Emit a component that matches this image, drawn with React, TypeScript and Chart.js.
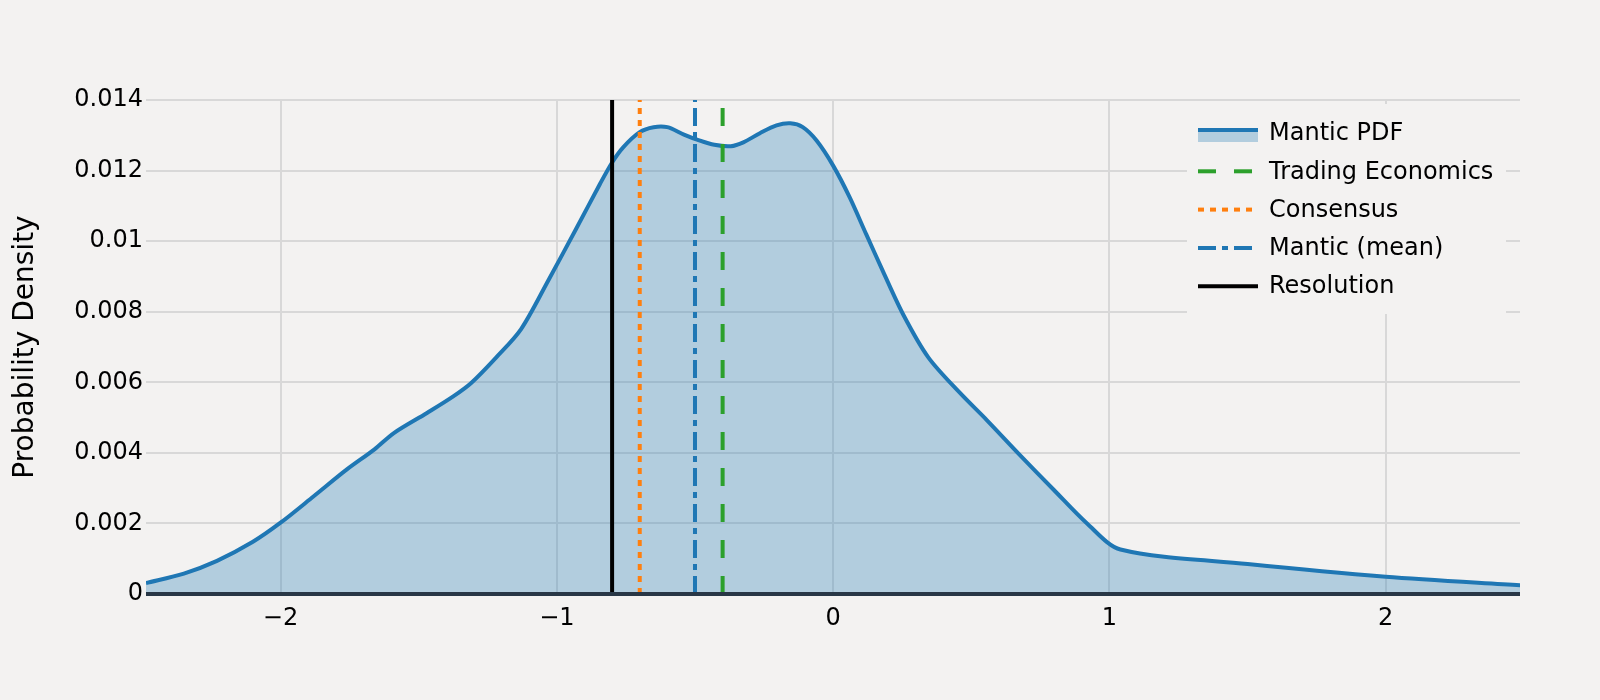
import React, { useEffect, useRef } from 'react';
import { Chart, registerables } from 'chart.js';

Chart.register(...registerables);

// ---- data ----
const pdfX = [
  -2.487, -2.35, -2.23, -2.1, -2.0, -1.88, -1.76, -1.66, -1.59, -1.47, -1.375, -1.31,
  -1.22, -1.13, -1.03, -0.93, -0.844, -0.8, -0.76, -0.7, -0.65, -0.6, -0.54, -0.49,
  -0.43, -0.37, -0.325, -0.265, -0.205, -0.155, -0.11, -0.06, 0.0, 0.06, 0.12, 0.18,
  0.255, 0.345, 0.46, 0.556, 0.677, 0.8, 0.92, 1.04, 1.5, 2.0, 2.487,
];
const pdfY = [
  0.00031, 0.00058, 0.00094, 0.00148, 0.00202, 0.00277, 0.00353, 0.0041, 0.00456, 0.00513, 0.0056, 0.00598,
  0.0067, 0.0075, 0.0089, 0.01035, 0.01162, 0.01223, 0.01266, 0.01309, 0.01323, 0.01323, 0.01302, 0.01287,
  0.01273, 0.01269, 0.0128, 0.01306, 0.01328, 0.01334, 0.01323, 0.01285, 0.01214, 0.01124, 0.01019, 0.00915,
  0.0079, 0.0067, 0.00569, 0.00493, 0.00393, 0.00294, 0.00199, 0.00126, 0.00085, 0.00049, 0.00025,
];
const pdfLabel = 'Mantic PDF';

const refLabels = ['Trading Economics', 'Consensus', 'Mantic (mean)', 'Resolution'];
const refValues = [-0.4, -0.7, -0.5, -0.8];
const refColors = ['#2ca02c', '#ff7f0e', '#1f77b4', '#000000'];
const refDashes: number[][] = [[18, 18], [6, 6], [18, 6, 6, 6], []];

const xTickValues = [-2, -1, 0, 1, 2];
const yTickValues = [0, 0.002, 0.004, 0.006, 0.008, 0.01, 0.012, 0.014];
const xRange = [-2.487, 2.486];
const yRange = [0, 0.014];
const yTitle = 'Probability Density';

// ---- styles ----
const BG = '#f3f2f1';
const GRID = 'rgb(216,216,216)';
const FONT = '"DejaVu Sans", Verdana, sans-serif';
const BLUE = '#1f77b4';
const FILL = 'rgba(31,119,180,0.3)';

const zeroLinePlugin = {
  id: 'zeroLine',
  afterDatasetsDraw(chart: any) {
    const { ctx, chartArea } = chart;
    const y = chart.scales.y.getPixelForValue(0);
    ctx.save();
    ctx.strokeStyle = 'rgb(40,55,70)';
    ctx.lineWidth = 4;
    ctx.beginPath();
    ctx.moveTo(chartArea.left, y);
    ctx.lineTo(chartArea.right, y);
    ctx.stroke();
    ctx.restore();
  },
};

const legendPlugin = {
  id: 'plotlyLegend',
  afterDraw(chart: any) {
    const { ctx, chartArea } = chart;
    const boxW = 319;
    const boxH = 210;
    const boxRight = chartArea.right - 14;
    const boxLeft = boxRight - boxW;
    const boxTop = chartArea.top + 4;
    const rowH = 38.3;
    ctx.save();
    ctx.fillStyle = BG;
    ctx.fillRect(boxLeft, boxTop, boxW, boxH);
    chart.data.datasets.forEach((ds: any, i: number) => {
      const cy = boxTop + 29 + i * rowH;
      const x0 = boxLeft + 11;
      const x1 = x0 + 60;
      if (ds.fill) {
        ctx.fillStyle = ds.backgroundColor;
        ctx.fillRect(x0, cy - 3, 60, 12);
        ctx.strokeStyle = ds.borderColor;
        ctx.lineWidth = 4;
        ctx.setLineDash([]);
        ctx.beginPath();
        ctx.moveTo(x0, cy - 3);
        ctx.lineTo(x1, cy - 3);
        ctx.stroke();
      } else {
        ctx.strokeStyle = ds.borderColor;
        ctx.lineWidth = 4;
        ctx.setLineDash(ds.borderDash || []);
        ctx.beginPath();
        ctx.moveTo(x0, cy);
        ctx.lineTo(x1, cy);
        ctx.stroke();
      }
      ctx.setLineDash([]);
      ctx.fillStyle = '#000';
      ctx.font = `24px ${FONT}`;
      ctx.textBaseline = 'middle';
      ctx.textAlign = 'left';
      ctx.fillText(ds.label, boxLeft + 82, cy + 1);
    });
    ctx.restore();
  },
};

export default function App() {
  const ref = useRef<HTMLCanvasElement>(null);

  useEffect(() => {
    const pdfData = pdfX.map((x, i) => ({ x, y: pdfY[i] }));
    const refSets = refLabels.map((label, i) => ({
      label,
      data: [
        { x: refValues[i], y: yRange[0] },
        { x: refValues[i], y: yRange[1] },
      ],
      borderColor: refColors[i],
      backgroundColor: refColors[i],
      borderWidth: 4,
      borderDash: refDashes[i],
      pointRadius: 0,
      fill: false,
      tension: 0,
      order: 0,
    }));

    const chart = new Chart(ref.current as HTMLCanvasElement, {
      type: 'line',
      data: {
        datasets: [
          {
            label: pdfLabel,
            data: pdfData,
            borderColor: BLUE,
            backgroundColor: FILL,
            borderWidth: 4,
            fill: 'origin',
            pointRadius: 0,
            tension: 0.3,
            order: 1,
          } as any,
          ...refSets,
        ],
      },
      options: {
        animation: false,
        responsive: false,
        devicePixelRatio: 1,
        layout: { padding: { top: 100, right: 80, left: 0, bottom: 0 } },
        plugins: {
          legend: { display: false },
          tooltip: { enabled: false },
        },
        scales: {
          x: {
            type: 'linear',
            min: xRange[0],
            max: xRange[1],
            afterBuildTicks: (s: any) => {
              s.ticks = xTickValues.map((v) => ({ value: v }));
            },
            afterFit: (s: any) => {
              s.height = 106;
            },
            ticks: {
              padding: 10,
              maxRotation: 0,
              autoSkip: false,
              color: '#000',
              font: { size: 24, family: FONT },
              callback: (v: any) => (v < 0 ? '\u2212' + Math.abs(v) : String(v)),
            },
            grid: { color: GRID, lineWidth: 2, drawTicks: false },
            border: { display: false },
          },
          y: {
            type: 'linear',
            min: yRange[0],
            max: yRange[1],
            afterBuildTicks: (s: any) => {
              s.ticks = yTickValues.map((v) => ({ value: v }));
            },
            afterFit: (s: any) => {
              s.width = 146;
            },
            ticks: {
              padding: 3,
              autoSkip: false,
              color: '#000',
              font: { size: 24, family: FONT },
              callback: (v: any) => String(parseFloat(Number(v).toFixed(3))),
            },
            grid: {
              color: (c: any) => (c.tick && c.tick.value === 0 ? 'rgba(0,0,0,0)' : GRID),
              lineWidth: 2,
              drawTicks: false,
            },
            border: { display: false },
            title: {
              display: true,
              text: yTitle,
              color: '#000',
              font: { size: 28, family: FONT },
              padding: { top: 9, bottom: 0 },
            },
          },
        },
      },
      plugins: [zeroLinePlugin, legendPlugin],
    });
    return () => chart.destroy();
  }, []);

  return (
    <div style={{ position: 'absolute', left: 0, top: 0, width: 1600, height: 700, background: BG }}>
      <canvas ref={ref} width={1600} height={700} style={{ display: 'block' }} />
    </div>
  );
}
